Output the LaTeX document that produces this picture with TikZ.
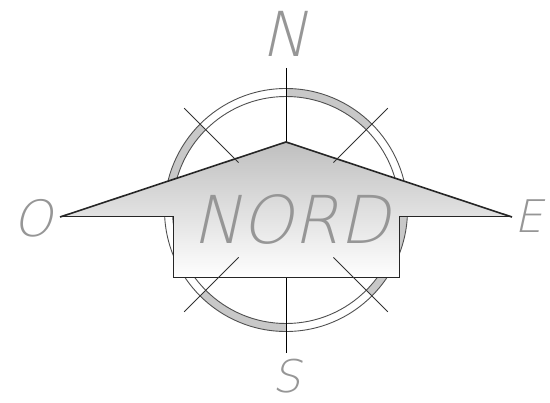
\documentclass[tikz,border=0pt]{standalone}
\usepackage{fontspec}
\usetikzlibrary{calc}
\newfontfamily\thinfont{DejaVu Sans ExtraLight}[FakeSlant=0.22]
\definecolor{ringgray}{RGB}{200,200,200}
\definecolor{ringline}{RGB}{80,80,80}
\definecolor{lettergray}{RGB}{150,150,150}
\begin{document}
\begin{tikzpicture}[x=1pt,y=1pt,
  letter/.style={text=lettergray, inner sep=0pt, anchor=center},
  ringedge/.style={draw=ringline, line width=0.9pt},
  axisline/.style={draw=black, line width=1pt},
  diagline/.style={draw=black!80, line width=0.8pt},
  arrowedge/.style={draw=black!85, line width=1pt, line join=miter}]
\useasboundingbox (0,0) rectangle (550,-403);
\coordinate (c) at (286,-210);
% ring
\foreach \a in {45,135,225,315}{
  \fill[ringgray] ($(c)+(\a:121.5)$) arc[start angle=\a, end angle=\a+45, radius=121.5]
    -- ($(c)+(\a+45:113.5)$) arc[start angle=\a+45, end angle=\a, radius=113.5] -- cycle;
}
\draw[ringedge] (c) circle[radius=121.5];
\draw[ringedge] (c) circle[radius=113.5];
% vertical axis
\coordinate (ntop) at (286,-68);
\coordinate (sbot) at (286,-353);
\draw[axisline] (ntop) -- (sbot);
% arrow
\coordinate (apex) at (286,-142);
\coordinate (lp) at (60,-217);
\coordinate (ln) at (173,-217);
\coordinate (ls) at (173,-278);
\coordinate (rs) at (399,-278);
\coordinate (rn) at (399,-217);
\coordinate (rp) at (512,-217);
\shade[top color=black!25, bottom color=white] (apex) -- (rp) -- (rn) -- (rs) -- (ls) -- (ln) -- (lp) -- cycle;
\draw[arrowedge] (rp) -- (rn) -- (rs) -- (ls) -- (ln) -- (lp);
\draw[arrowedge, line width=1.6pt] (lp) -- (apex) -- (rp);
% diagonals
\foreach \a in {45,135,225,315}{
  \draw[diagline] ($(c)+(\a:67)$) -- ($(c)+(\a:144)$);
}
% letters
\node[letter, font=\thinfont\fontsize{62}{62}\selectfont] (tN) at (285,-34) {N};
\node[letter, font=\thinfont\fontsize{45}{45}\selectfont] (tS) at (287,-376) {S};
\node[letter, font=\thinfont\fontsize{45}{45}\selectfont] (tE) at (529,-216) {E};
\node[letter, font=\thinfont\fontsize{50}{50}\selectfont] (tO) at (33,-218) {O};
\node[letter, font=\thinfont\fontsize{66}{66}\selectfont] (tNORD) at (291,-219) {NORD};
\end{tikzpicture}
\end{document}
